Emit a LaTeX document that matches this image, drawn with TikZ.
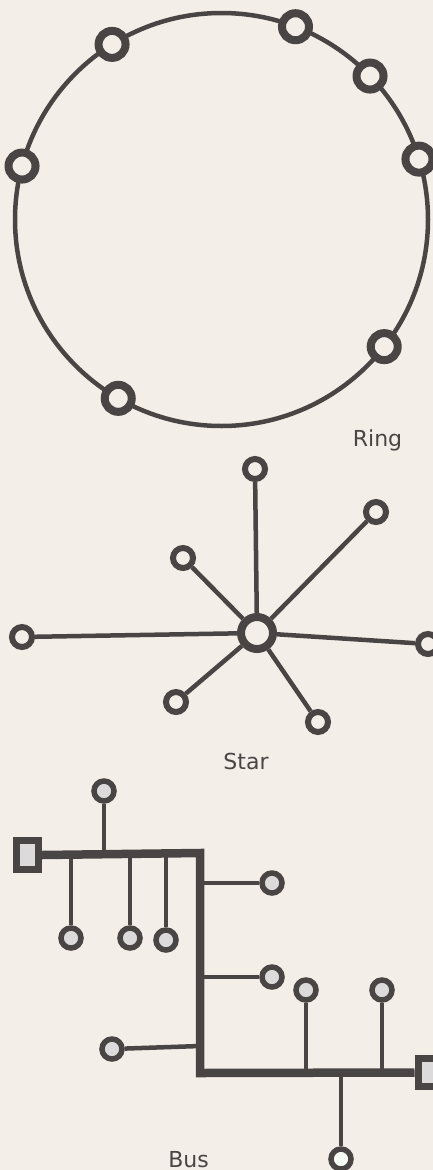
\documentclass[tikz,border=0pt]{standalone}
\usepackage{fontspec}
\setmainfont{DejaVu Sans}
\definecolor{bg}{HTML}{F4EEE9}
\definecolor{ink}{HTML}{4A4545}
\definecolor{busfill}{HTML}{DCDADB}
\tikzset{
  ringline/.style={draw=ink, line width=4.5pt},
  ringnode/.style={circle, draw=ink, fill=bg, line width=8pt, minimum size=27pt, inner sep=0pt},
  hubnode/.style={circle, draw=ink, fill=bg, line width=8pt, minimum size=32pt, inner sep=0pt},
  starnode/.style={circle, draw=ink, fill=bg, line width=6pt, minimum size=20pt, inner sep=0pt},
  spoke/.style={draw=ink, line width=4.5pt},
  busnode/.style={circle, draw=ink, fill=busfill, line width=5.5pt, minimum size=20pt, inner sep=0pt},
  terminal/.style={rectangle, draw=ink, fill=busfill, line width=7pt, minimum width=22pt, minimum height=29pt, inner sep=0pt},
  busline/.style={draw=ink, line width=8.5pt, line join=miter},
  stub/.style={draw=ink, line width=4.5pt},
  lbl/.style={text=ink, font=\fontsize{22}{26}\selectfont, inner sep=0pt, anchor=base}
}
\begin{document}
\begin{tikzpicture}[x=1pt,y=-1pt]
\fill[bg] (0,0) rectangle (433,1170);
\useasboundingbox (0,0) rectangle (433,1170);
\clip (0,0) rectangle (433,1170);

% ---------- Ring ----------
\coordinate (rc) at (221.5,219.5);
\draw[ringline] (rc) circle (206.5);
\foreach \a [count=\i] in {122,69,44,17,165,-38,-120}{
  \node[ringnode] (r\i) at ({221.5+206.5*cos(\a)},{219.5-206.5*sin(\a)}) {};
}
\node[lbl] (ringlbl) at (377.5,446.5) {Ring};

% ---------- Star ----------
\node[hubnode] (hub) at (257,633) {};
\node[starnode] (s1) at (255,469) {};
\node[starnode] (s2) at (376,512) {};
\node[starnode] (s3) at (183,558) {};
\node[starnode] (s4) at (22,637) {};
\node[starnode] (s5) at (428,644) {};
\node[starnode] (s6) at (176,702) {};
\node[starnode] (s7) at (318,722) {};
\foreach \n in {s1,s2,s3,s4,s5,s6,s7}{
  \draw[spoke] (hub) -- (\n);
}
\node[lbl] (starlbl) at (246,769.5) {Star};

% ---------- Bus ----------
\node[terminal] (tL) at (27.5,855) {};
\node[terminal, minimum width=28pt, minimum height=28pt] (tR) at (432,1072.5) {};
\coordinate (bA) at (200,853);
\coordinate (bB) at (200,1073);

% junctions
\coordinate (j1) at (104,853);
\coordinate (j2) at (71,853);
\coordinate (j3) at (130,853);
\coordinate (j4) at (166,853);
\coordinate (j5) at (200,883);
\coordinate (j6) at (200,977);
\coordinate (j7) at (200,1046);
\coordinate (j8) at (306,1073);
\coordinate (j9) at (382,1073);
\coordinate (j10) at (341,1073);

\node[busnode] (b1) at (104,791) {};
\node[busnode] (b2) at (71,938) {};
\node[busnode] (b3) at (130,938) {};
\node[busnode] (b4) at (166,940) {};
\node[busnode] (b5) at (272,883) {};
\node[busnode] (b6) at (272,977) {};
\node[busnode] (b7) at (112,1049) {};
\node[busnode] (b8) at (306,990) {};
\node[busnode] (b9) at (382,990) {};
\node[busnode, fill=white!85!green!20] (b10) at (341,1159) {};

\draw[stub] (j1) -- (b1);
\draw[stub] (j2) -- (b2);
\draw[stub] (j3) -- (b3);
\draw[stub] (j4) -- (b4);
\draw[stub] (j5) -- (b5);
\draw[stub] (j6) -- (b6);
\draw[stub] (j7) -- (b7);
\draw[stub] (j8) -- (b8);
\draw[stub] (j9) -- (b9);
\draw[stub] (j10) -- (b10);

\draw[busline] (tL.east) -- (bA) -- (bB) -- (tR.west);

\node[lbl] (buslbl) at (188.5,1167) {Bus};
\end{tikzpicture}
\end{document}
